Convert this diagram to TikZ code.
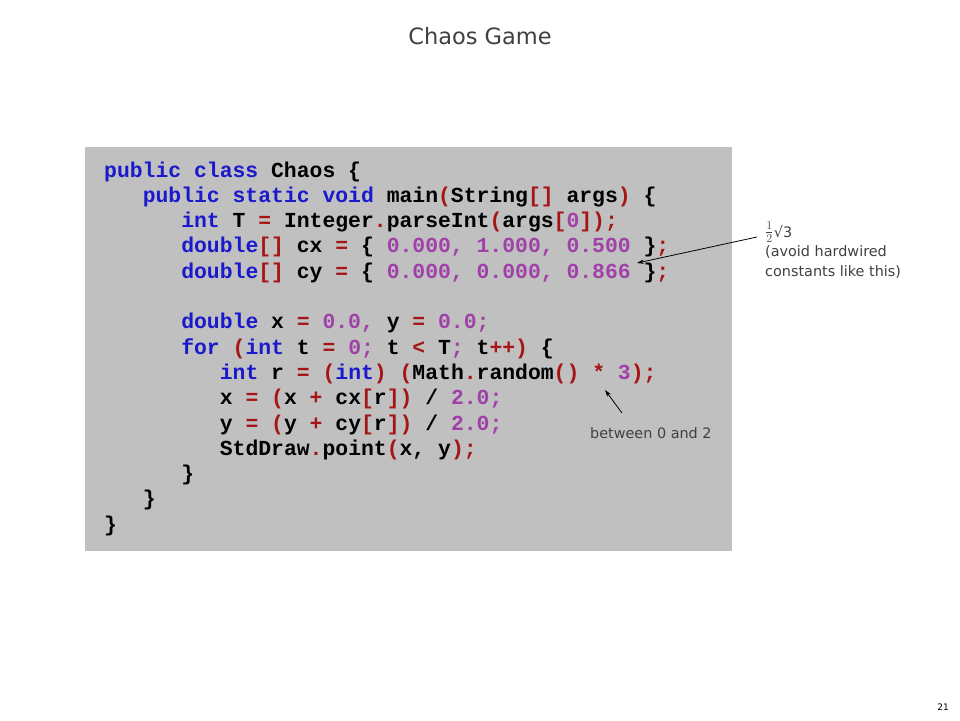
\documentclass[tikz,border=0pt]{standalone}
\usepackage{fontspec}
\usetikzlibrary{arrows.meta}
\newfontfamily\codefont{Liberation Mono}[BoldFont={Liberation Mono Bold}]
\newfontfamily\notefont{DejaVu Sans}
\definecolor{kwc}{HTML}{1A1ACC}
\definecolor{opc}{HTML}{A51515}
\definecolor{nmc}{HTML}{A040A8}
\definecolor{notec}{HTML}{404040}
\definecolor{boxc}{HTML}{C0C0C0}
\newcommand{\kw}[1]{\textcolor{kwc}{#1}}
\newcommand{\op}[1]{\textcolor{opc}{#1}}
\newcommand{\nm}[1]{\textcolor{nmc}{#1}}
\tikzset{
  codeline/.style={anchor=base west, inner sep=0pt, font=\codefont\bfseries\fontsize{21.4}{25}\selectfont},
  note/.style={anchor=base west, inner sep=0pt, text=notec, font=\notefont\fontsize{14.4}{17}\selectfont},
  pointer/.style={-{Stealth[length=7pt,width=4.5pt]}, line width=0.8pt, black}
}
\begin{document}
\begin{tikzpicture}[x=1pt,y=-1pt]
\useasboundingbox (0,0) rectangle (960,720);
\node[anchor=base, inner sep=0pt, text=notec, font=\notefont\fontsize{22.5}{26}\selectfont] (title) at (480,44) {Chaos Game};
\fill[boxc] (85,147) rectangle (732,551);
\def\lh{25.3}
\def\ind{38.55}
\node[codeline] (l1) at (104,177) {\kw{public} \kw{class} Chaos \{};
\node[codeline] (l2) at (104+\ind,177+\lh) {\kw{public} \kw{static} \kw{void} main\op{(}String\op{[]} args\op{)} \{};
\node[codeline] (l3) at (104+2*\ind,177+2*\lh) {\kw{int} T \op{=} Integer\op{.}parseInt\op{(}args\op{[}\nm{0}\op{]);}};
\node[codeline] (l4) at (104+2*\ind,177+3*\lh) {\kw{double}\op{[]} cx \op{=} \{ \nm{0.000, 1.000, 0.500} \}\op{;}};
\node[codeline] (l5) at (104+2*\ind,177+4*\lh) {\kw{double}\op{[]} cy \op{=} \{ \nm{0.000, 0.000, 0.866} \}\op{;}};
\node[codeline] (l7) at (104+2*\ind,177+6*\lh) {\kw{double} x \op{=} \nm{0.0,} y \op{=} \nm{0.0;}};
\node[codeline] (l8) at (104+2*\ind,177+7*\lh) {\kw{for} \op{(}\kw{int} t \op{=} \nm{0;} t \op{<} T\nm{;} t\op{++)} \{};
\node[codeline] (l9) at (104+3*\ind,177+8*\lh) {\kw{int} r \op{=} \op{(}\kw{int}\op{)} \op{(}Math\op{.}random\op{()} \op{*} \nm{3}\op{);}};
\node[codeline] (l10) at (104+3*\ind,177+9*\lh) {x \op{=} \op{(}x \op{+} cx\op{[}r\op{])} / \nm{2.0;}};
\node[codeline] (l11) at (104+3*\ind,177+10*\lh) {y \op{=} \op{(}y \op{+} cy\op{[}r\op{])} / \nm{2.0;}};
\node[codeline] (l12) at (104+3*\ind,177+11*\lh) {StdDraw\op{.}point\op{(}x, y\op{);}};
\node[codeline] (l13) at (104+2*\ind,177+12*\lh) {\}};
\node[codeline] (l14) at (104+\ind,177+13*\lh) {\}};
\node[codeline] (l15) at (104,177+14*\lh) {\}};
% annotations
\node[note] (half) at (765,237) {\raisebox{0.5pt}{\fontsize{17}{17}\selectfont$\frac{1}{2}$}\kern0.5pt√3};
\node[note] (avoid) at (765,256) {(avoid hardwired};
\node[note] (const) at (765,276) {constants like this)};
\node[note] (betw) at (590,438) {between 0 and 2};
\coordinate (tip1) at (637,263);
\coordinate (tail1) at (757,237);
\coordinate (tip2) at (605,390);
\coordinate (tail2) at (622,413);
\draw[pointer] (tail1) -- (tip1);
\draw[pointer] (tail2) -- (tip2);
\node[anchor=base, inner sep=0pt, font=\notefont\fontsize{9}{10}\selectfont] (pnum) at (943,710) {21};
\end{tikzpicture}
\end{document}
